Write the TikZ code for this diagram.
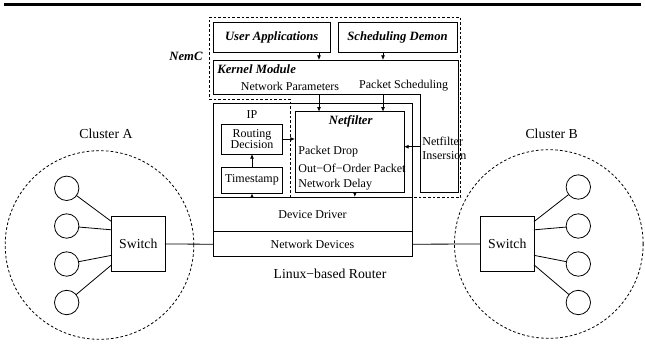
\documentclass[tikz,border=0pt]{standalone}
\usepackage{fontspec}
\setmainfont{Liberation Serif}
\usetikzlibrary{arrows.meta}

\begin{document}
\begin{tikzpicture}[
            x=0.75pt, y=-0.75pt,
            line width=0.6pt,
            >={Latex[length=3.5pt,width=3pt]},
            box/.style={draw, rectangle, inner sep=0pt, outer sep=0pt,
                font=\fontsize{9}{8.8}\selectfont, align=center},
            title/.style={font=\fontsize{9.5}{10}\selectfont\bfseries\itshape,
                inner sep=0pt},
            txt/.style={font=\fontsize{9}{10}\selectfont, inner sep=0pt},
            big/.style={font=\fontsize{10.3}{12}\selectfont, inner sep=0pt},
            host/.style={circle, draw, minimum size=#1,
                inner sep=0pt, outer sep=0pt},
            host/.default=18.3pt,
            cluster/.style={circle, draw, dash pattern=on 2pt off 1.6pt,
                minimum size=141.5pt, inner sep=0pt}
        ]
        \useasboundingbox (0,0) rectangle (645,343);
        \draw[line width=1.9pt] (4,4.5) -- (641,4.5);

        % NemC outline
        \draw[dash pattern=on 2pt off 1.5pt] (209,17) -- (460.5,17) -- (460.5,197.5)
            -- (290.5,197.5) -- (290.5,99) -- (209,99) -- cycle;
        \node[title] (nemc) at (186,56) {NemC};

        \node[box, title, minimum width=87.5pt, minimum height=22.5pt] (ua) at (271.7,37) {User Applications};
        \node[box, title, minimum width=89.25pt, minimum height=22.5pt] (sd) at (397.5,37) {Scheduling Demon};

        % kernel module
        \draw (213,60) -- (458,60) -- (458,192) -- (420,192) -- (420,94) -- (213,94) -- cycle;
        \node[title, anchor=west] (km) at (217,69) {Kernel Module};
        \node[txt] (np) at (290,86) {Network Parameters};
        \node[txt] (ps) at (403.7,86) {Packet Scheduling};
        \coordinate (kmA) at (319,60);
        \coordinate (kmB) at (383,60);
        \coordinate (npA) at (319,94);
        \coordinate (psB) at (383,94);
        \coordinate (ins) at (420,146.7);

        % router
        \node[box, minimum width=149.25pt, minimum height=70.5pt] (ip) at (312.5,150) {};
        \node[txt] (iplabel) at (252,115) {IP};
        \node[box, minimum width=45.5pt, minimum height=22.5pt] (rd) at (252,139) {Routing\\Decision};
        \node[box, minimum width=45.5pt, minimum height=19.5pt] (ts) at (252,180.3) {Timestamp};
        \node[box, minimum width=81.75pt, minimum height=60.2pt] (nf) at (349.5,151.85) {};
        \node[title] (nflabel) at (350.7,121.7) {Netfilter};
        \node[txt, anchor=west] (drop) at (298,151.7) {Packet Drop};
        \node[txt, anchor=west] (ooo) at (298,168.3) {Out−Of−Order Packet};
        \node[txt, anchor=west] (delay) at (298,185) {Network Delay};
        \node[txt, anchor=west, align=left] (nfins) at (422,148.3) {Netfilter\\Insersion};
        \node[box, minimum width=149.25pt, minimum height=26pt] (dd) at (312.5,214.35) {Device Driver};
        \node[box, minimum width=149.25pt, minimum height=18.75pt] (nd) at (312.5,244.2) {Network Devices};
        \node[big] (router) at (330,274) {Linux−based Router};

        \draw[->] (ua.south -| kmA) -- (kmA);
        \draw[->] (sd.south -| kmB) -- (kmB);
        \draw[->] (npA) -- (nf.north -| npA);
        \draw[->] (psB) -- (nf.north -| psB);
        \draw[->] (rd.east) -- (rd.east -| nf.west);
        \draw[->] (ts.north) -- (rd.south);
        \draw[->] (dd.north -| ts.south) -- (ts.south);
        \draw[->] ([xshift=4pt]nf.south) -- ([xshift=4pt]nf.south |- dd.north);
        \draw[->] (ins) -- (ins -| nf.east);

        % cluster A
        \node[cluster] (clA) at (99.5,245) {};
        \node[big] (clAlabel) at (106,133.3) {Cluster A};
        \node[box, big, minimum width=40pt, minimum height=41.25pt] (swA) at (138.3,244) {Switch};
        \node[host] (a1) at (66.7,188.3) {};
        \node[host] (a2) at (66.7,226) {};
        \node[host] (a3) at (66.7,264) {};
        \node[host] (a4) at (66.7,302.5) {};
        \draw (a1) -- (swA.140);
        \draw (a2) -- (swA.152);
        \draw (a3) -- (swA.203);
        \draw (a4) -- (swA.218);
        \draw (swA.east) -- (nd.west);

        % cluster B
        \node[cluster] (clB) at (548.8,244) {};
        \node[big] (clBlabel) at (551.7,133.3) {Cluster B};
        \node[box, big, minimum width=40pt, minimum height=41.25pt] (swB) at (507.3,244) {Switch};
        \node[host] (b1) at (578.3,187) {};
        \node[host] (b2) at (578.3,226) {};
        \node[host] (b3) at (578.3,264) {};
        \node[host] (b4) at (578.3,302.5) {};
        \draw (b1) -- (swB.40);
        \draw (b2) -- (swB.28);
        \draw (b3) -- (swB.-23);
        \draw (b4) -- (swB.-38);
        \draw (nd.east) -- (swB.west);
    \end{tikzpicture}
\end{document}
